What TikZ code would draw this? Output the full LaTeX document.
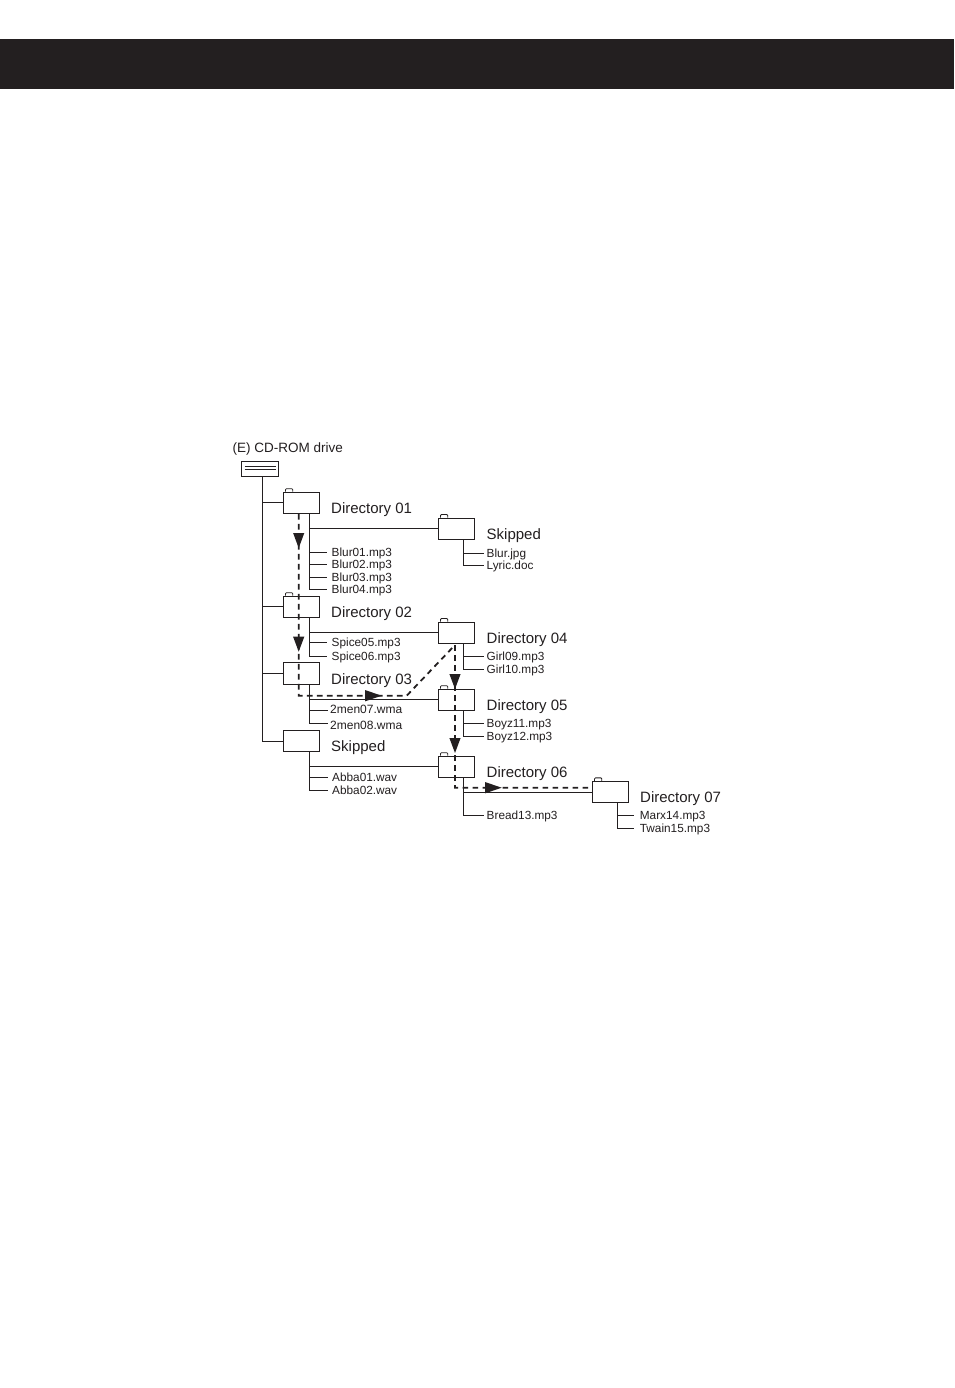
\documentclass[tikz,border=0pt]{standalone}
\usepackage{fontspec}
\setmainfont{Liberation Sans}
\usetikzlibrary{arrows.meta}
\definecolor{ink}{HTML}{231F20}
\tikzset{
 x=1pt,y=-1pt,
 folder/.style={draw=ink,line width=1pt,fill=white,minimum width=36.4pt,minimum height=21.3pt,inner sep=0pt},
 drive/.style={draw=ink,line width=1pt,fill=white,minimum width=37pt,minimum height=15.5pt,inner sep=0pt},
 tabmark/.style={draw=ink,line width=.8pt,rounded corners=1pt},
 wire/.style={draw=ink,line width=1pt},
 filetxt/.style={anchor=west,inner ysep=0pt,inner xsep=4.5pt,text=ink,font=\fontsize{11.8}{12}\selectfont,text height=8.4pt,text depth=0pt},
 widetxt/.style={filetxt,inner xsep=2.5pt,font=\fontsize{12}{12}\selectfont},
 dirtxt/.style={anchor=west,inner sep=0pt,text=ink,font=\fontsize{15}{15}\selectfont,text height=10.8pt,text depth=0pt},
 path dash/.style={draw=ink,line width=1.8pt,dash pattern=on 5.6pt off 4.4pt},
}
\newcommand{\foldertab}[1]{\draw[tabmark] ([xshift=2.7pt]#1.north west) -- ++(0,-3) -- ++(7.3,0) -- ++(0,3);}
\newcommand{\headdown}[2]{\fill[ink] (#1-5.6,#2-15) -- (#1+5.6,#2-15) -- (#1,#2) -- cycle;}
\newcommand{\headright}[2]{\fill[ink] (#1-16.5,#2-5.6) -- (#1-16.5,#2+5.6) -- (#1,#2) -- cycle;}
\begin{document}
\begin{tikzpicture}
\useasboundingbox (0,0) rectangle (954,1388);
\fill[white] (0,0) rectangle (954,1388);
\fill[ink] (0,39) rectangle (954,89);

% file labels and titles
\node[anchor=west,inner sep=0pt,text=ink,font=\fontsize{13.5}{14}\selectfont] (cdlabel) at (232.5,449.5) {(E) CD-ROM drive};

\node[filetxt] (f1) at (327,552.3) {Blur01.mp3};
\node[filetxt] (f2) at (327,564.7) {Blur02.mp3};
\node[filetxt] (f3) at (327,577) {Blur03.mp3};
\node[filetxt] (f4) at (327,589.3) {Blur04.mp3};
\node[filetxt] (f5) at (327,642.5) {Spice05.mp3};
\node[filetxt] (f6) at (327,656) {Spice06.mp3};
\node[widetxt] (f7) at (327.5,710.3) {\raisebox{1pt}{2men07.wma}};
\node[widetxt] (f8) at (327.5,723.3) {\raisebox{-2pt}{2men08.wma}};
\node[filetxt] (f9) at (327.5,777) {Abba01.wav};
\node[filetxt] (f10) at (327.5,790) {Abba02.wav};
\node[filetxt,inner xsep=2.5pt] (f11) at (484,553) {Blur.jpg};
\node[filetxt,inner xsep=2.5pt] (f12) at (484,565.7) {Lyric.doc};
\node[filetxt,inner xsep=2.5pt] (f13) at (484,656.3) {Girl09.mp3};
\node[filetxt,inner xsep=2.5pt] (f14) at (484,669.3) {Girl10.mp3};
\node[filetxt,inner xsep=2.5pt] (f15) at (484,723) {Boyz11.mp3};
\node[filetxt,inner xsep=2.5pt] (f16) at (484,736) {Boyz12.mp3};
\node[filetxt,inner xsep=2.5pt] (f17) at (484,815) {Bread13.mp3};
\node[filetxt,inner xsep=6pt] (f18) at (633.7,815.3) {Marx14.mp3};
\node[filetxt,inner xsep=6pt] (f19) at (633.7,828.3) {Twain15.mp3};

\node[dirtxt] (t1) at (331,508.4) {Directory 01};
\node[dirtxt] (t2) at (486.5,534.4) {Skipped};
\node[dirtxt] (t3) at (331,612.4) {Directory 02};
\node[dirtxt] (t4) at (486.5,638.4) {Directory 04};
\node[dirtxt] (t5) at (331,679.4) {Directory 03};
\node[dirtxt] (t6) at (486.5,705.4) {Directory 05};
\node[dirtxt] (t7) at (331,746.4) {Skipped};
\node[dirtxt] (t8) at (486.5,772.4) {Directory 06};
\node[dirtxt] (t9) at (640,796.7) {Directory 07};

% folders
\node[drive] (drv) at (260,469) {};
\node[folder] (d1) at (301.5,502.8) {};
\node[folder] (d2) at (301.5,606.8) {};
\node[folder] (d3) at (301.5,673.6) {};
\node[folder] (d4) at (301.5,741.2) {};
\node[folder] (r1) at (456.5,528.7) {};
\node[folder] (r2) at (456.5,632.7) {};
\node[folder] (r3) at (456.5,699.8) {};
\node[folder] (r4) at (456.5,766.8) {};
\node[folder] (r5) at (610.5,792) {};
\draw[draw=ink,line width=.9pt] (244.5,466.2) -- (275.5,466.2) (244.5,469.8) -- (275.5,469.8);
\foreach \n in {d1,d2,r1,r2,r3,r4,r5} {\foldertab{\n}}

% tree wires
\coordinate (trunk) at (drv.south -| 262.3,0);
\coordinate (s1) at (309.7,0 |- d1.south);
\coordinate (s2) at (309.7,0 |- d2.south);
\coordinate (s3) at (309.7,0 |- d3.south);
\coordinate (s4) at (309.7,0 |- d4.south);
\coordinate (q1) at (463.7,0 |- r1.south);
\coordinate (q2) at (463.7,0 |- r2.south);
\coordinate (q3) at (463.7,0 |- r3.south);
\coordinate (q4) at (463.7,0 |- r4.south);
\coordinate (q5) at (617.3,0 |- r5.south);
\draw[wire] (trunk) |- (d4.west);
\draw[wire] (trunk |- d1.west) -- (d1.west);
\draw[wire] (trunk |- d2.west) -- (d2.west);
\draw[wire] (trunk |- d3.west) -- (d3.west);
\draw[wire] (s1) |- (f4.west);
\draw[wire] (s1 |- r1.west) -- (r1.west);
\draw[wire] (s1 |- f1.west) -- (f1.west);
\draw[wire] (s1 |- f2.west) -- (f2.west);
\draw[wire] (s1 |- f3.west) -- (f3.west);
\draw[wire] (s2) |- (f6.west);
\draw[wire] (s2 |- r2.west) -- (r2.west);
\draw[wire] (s2 |- f5.west) -- (f5.west);
\draw[wire] (s3) |- (f8.west);
\draw[wire] (s3 |- r3.west) -- (r3.west);
\draw[wire] (s3 |- f7.west) -- (f7.west);
\draw[wire] (s4) |- (f10.west);
\draw[wire] (s4 |- r4.west) -- (r4.west);
\draw[wire] (s4 |- f9.west) -- (f9.west);
\draw[wire] (q1) |- (f12.west);
\draw[wire] (q1 |- f11.west) -- (f11.west);
\draw[wire] (q2) |- (f14.west);
\draw[wire] (q2 |- f13.west) -- (f13.west);
\draw[wire] (q3) |- (f16.west);
\draw[wire] (q3 |- f15.west) -- (f15.west);
\draw[wire] (q4) |- (f17.west);
\draw[wire] (q4 |- r5.west) -- (r5.west);
\draw[wire] (q5) |- (f19.west);
\draw[wire] (q5 |- f18.west) -- (f18.west);

% playback route
\coordinate (a) at (298.7,0 |- d1.south);
\coordinate (b) at (298.7,695.7);
\coordinate (c) at (406.7,695.7);
\coordinate (e) at (455,645);
\coordinate (g) at (455,787.7);
\draw[path dash] (a) -- (b) -- (c) -- (e) -- (g) -- (r5.south west |- g);
\headdown{298.7}{548}
\headdown{298.7}{651.7}
\headright{381.7}{695.7}
\headdown{455}{689}
\headdown{455}{753}
\headright{501.7}{787.7}
\end{tikzpicture}
\end{document}
